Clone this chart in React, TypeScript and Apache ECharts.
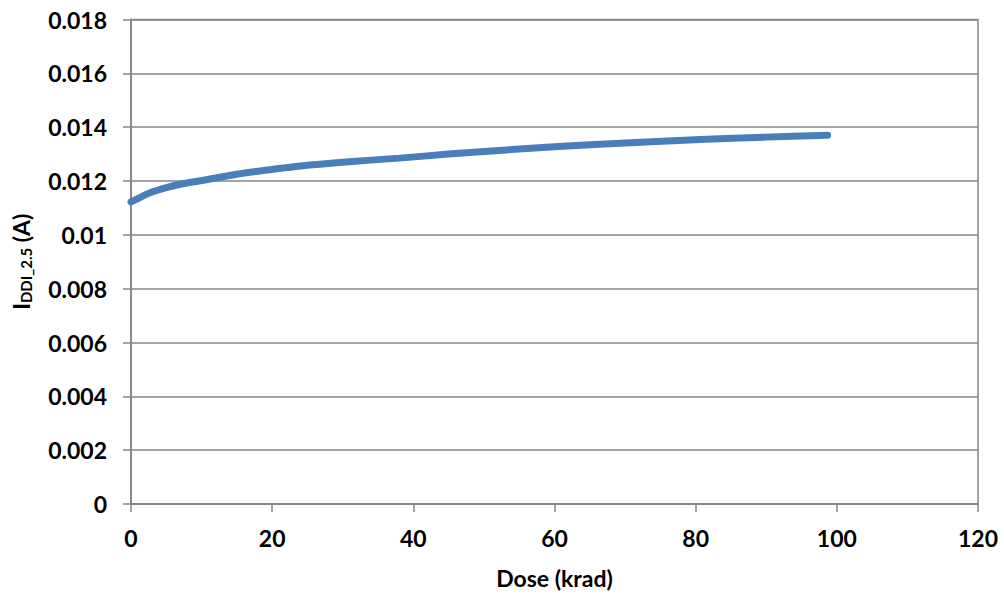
import React, { useEffect, useRef } from "react";
import * as echarts from "echarts";

const doses = [0, 1, 2.7, 5, 7, 9.8, 15, 20, 24, 30, 38, 45, 50, 60, 70, 80.6, 90, 98.7];
const currents = [0.01122, 0.01135, 0.01156, 0.01175, 0.01188, 0.01201, 0.01225, 0.01243, 0.01256, 0.0127, 0.01285, 0.013, 0.0131, 0.01327, 0.01341, 0.01354, 0.01363, 0.0137];
const yTicks = ["0", "0.002", "0.004", "0.006", "0.008", "0.01", "0.012", "0.014", "0.016", "0.018"];

export default function App() {
  const ref = useRef<HTMLDivElement>(null);
  useEffect(() => {
    if (!ref.current) return;
    const chart = echarts.init(ref.current, null, { renderer: "svg" });
    const font = "Lato, 'Open Sans', sans-serif";
    chart.setOption({
      animation: false,
      backgroundColor: "#ffffff",
      grid: { left: 131, right: 26, top: 19.5, bottom: 89, show: true, borderColor: "#868686", borderWidth: 1.5 },
      xAxis: {
        type: "value",
        min: 0,
        max: 120,
        interval: 20,
        name: "Dose (krad)",
        nameLocation: "middle",
        nameGap: 62,
        nameTextStyle: { fontFamily: font, fontWeight: "bold", fontSize: 23, color: "#000" },
        axisLine: { show: true, lineStyle: { color: "#868686", width: 2 } },
        axisTick: { show: true, length: 8, lineStyle: { color: "#868686", width: 1.5 } },
        axisLabel: { margin: 22, fontFamily: font, fontWeight: "bold", fontSize: 23, color: "#000" },
        splitLine: { show: false },
      },
      yAxis: {
        type: "value",
        min: 0,
        max: 0.018,
        interval: 0.002,
        name: "{i|I}{s|DDI_2.5}{i| (A)}",
        nameLocation: "middle",
        nameGap: 98,
        nameTextStyle: {
          fontFamily: font,
          fontWeight: "bold",
          color: "#000",
          rich: {
            i: { fontFamily: font, fontWeight: "bold", fontSize: 23, color: "#000" },
            s: { fontFamily: font, fontWeight: "bold", fontSize: 15, color: "#000", verticalAlign: "bottom", padding: [9, 0, 0, 0] },
          },
        },
        axisLine: { show: true, lineStyle: { color: "#868686", width: 2 } },
        axisTick: { show: true, length: 8, lineStyle: { color: "#868686", width: 1.5 } },
        axisLabel: {
          margin: 24,
          fontFamily: font,
          fontWeight: "bold",
          fontSize: 23,
          color: "#000",
          formatter: (v: number) => {
            const idx = Math.round(v / 0.002);
            return yTicks[idx] ?? String(v);
          },
        },
        splitLine: { show: true, lineStyle: { color: "#868686", width: 1.5 } },
      },
      series: [
        {
          type: "line",
          data: doses.map((d, i) => [d, currents[i]]),
          smooth: 0.3,
          showSymbol: false,
          lineStyle: { color: "#4a7ebb", width: 7, cap: "round" },
        },
      ],
    });
    return () => chart.dispose();
  }, []);
  return <div ref={ref} style={{ position: "fixed", left: 0, top: 0, width: 1004, height: 594 }} />;
}
